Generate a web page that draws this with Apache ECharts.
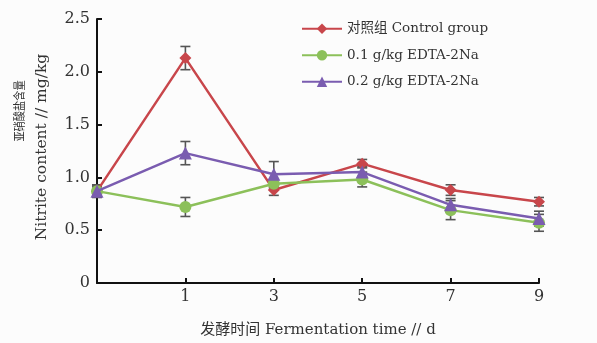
<!DOCTYPE html>
<html><head><meta charset="utf-8">
<script src="https://cdn.jsdelivr.net/npm/echarts@6/dist/echarts.min.js"></script>
<style>html,body{margin:0;padding:0;background:#fcfcfc;}#c{width:597px;height:343px;}</style>
</head><body><div id="c"></div>
<script>
const days = ['0','1','3','5','7','9'];
const yTicks = [0, 0.5, 1.0, 1.5, 2.0, 2.5];
const names = ['对照组 Control group', '0.1 g/kg EDTA-2Na', '0.2 g/kg EDTA-2Na'];
const control = [0.87, 2.13, 0.88, 1.13, 0.88, 0.77];
const controlErr = [0.04, 0.11, 0.05, 0.04, 0.05, 0.04];
const edta01 = [0.87, 0.72, 0.94, 0.98, 0.69, 0.57];
const edta01Err = [0.06, 0.09, 0.04, 0.07, 0.09, 0.08];
const edta02 = [0.87, 1.23, 1.03, 1.05, 0.74, 0.61];
const edta02Err = [0.05, 0.11, 0.12, 0.05, 0.06, 0.07];

const FONT = "'DejaVu Serif', 'Noto Sans CJK SC', serif";
const colors = ['#c8464b', '#8cc05a', '#7a5cb0'];
const symbols = ['diamond', 'circle', 'triangle'];
const vals = [control, edta01, edta02];
const errs = [controlErr, edta01Err, edta02Err];

function errData(v, e) { return v.map((y, i) => [i, y - e[i], y + e[i]]); }
function renderErr(params, api) {
  const x = api.value(0);
  const lo = api.coord([x, api.value(1)]);
  const hi = api.coord([x, api.value(2)]);
  const w = 5;
  const st = { stroke: '#555', lineWidth: 1.6 };
  return { type: 'group', children: [
    { type: 'line', shape: { x1: lo[0], y1: lo[1], x2: hi[0], y2: hi[1] }, style: st },
    { type: 'line', shape: { x1: lo[0]-w, y1: lo[1], x2: lo[0]+w, y2: lo[1] }, style: st },
    { type: 'line', shape: { x1: hi[0]-w, y1: hi[1], x2: hi[0]+w, y2: hi[1] }, style: st }
  ]};
}

const series = [];
for (let k = 0; k < 3; k++) {
  series.push({
    type: 'custom', renderItem: renderErr, data: errData(vals[k], errs[k]), z: 1, silent: true,
    encode: { x: 0, y: [1, 2] }
  });
}
for (let k = 0; k < 3; k++) {
  series.push({
    name: names[k], type: 'line', data: vals[k], z: 3 + k,
    symbol: symbols[k], symbolSize: k === 2 ? 13 : 12, showSymbol: true,
    lineStyle: { color: colors[k], width: 2.5 },
    itemStyle: { color: colors[k] }
  });
}

const chart = echarts.init(document.getElementById('c'), null, { renderer: 'canvas' });
chart.setOption({
  backgroundColor: '#fcfcfc',
  animation: false,
  color: colors,
  grid: { left: 97, right: 58, top: 19, bottom: 60, containLabel: false },
  legend: {
    data: names, orient: 'vertical', left: 296, top: 17, itemWidth: 40, itemHeight: 13, itemGap: 13,
    textStyle: { fontFamily: FONT, fontSize: 13.5, color: '#333' }
  },
  xAxis: {
    type: 'category', data: days, boundaryGap: false,
    axisLine: { lineStyle: { color: '#111', width: 2 } },
    axisTick: { inside: true, length: 5, alignWithLabel: true, interval: (i) => i !== 0, lineStyle: { color: '#111', width: 2 } },
    axisLabel: { interval: (i) => i !== 0, fontFamily: FONT, fontSize: 16, color: '#333', margin: 6 },
    splitLine: { show: false },
    name: '发酵时间 Fermentation time // d', nameLocation: 'middle', nameGap: 40,
    nameTextStyle: { fontFamily: FONT, fontSize: 15, color: '#333' }
  },
  yAxis: {
    type: 'value', min: 0, max: 2.5, interval: 0.5,
    axisLine: { show: true, lineStyle: { color: '#111', width: 2 } },
    axisTick: { show: true, inside: true, length: 5, lineStyle: { color: '#111', width: 2 } },
    axisLabel: { fontFamily: FONT, fontSize: 16, color: '#333', margin: 7,
      formatter: (v) => { const t = yTicks.find(q => Math.abs(q - v) < 1e-9); return t === 0 ? '0' : t.toFixed(1); } },
    splitLine: { show: false }
  },
  graphic: [
    { type: 'text', x: 13, y: 111, rotation: Math.PI / 2, scaleX: 0.85, scaleY: 1, style: { text: '亚硝酸盐含量', font: "12px 'Noto Sans CJK SC'", fill: '#333', textAlign: 'center', textVerticalAlign: 'top' } },
    { type: 'text', x: 34, y: 147, rotation: Math.PI / 2, style: { text: 'Nitrite content // mg/kg', font: "15.5px 'DejaVu Serif', 'Noto Sans CJK SC'", fill: '#333', textAlign: 'center', textVerticalAlign: 'top' } }
  ],
  series: series
});
</script>
</body></html>
